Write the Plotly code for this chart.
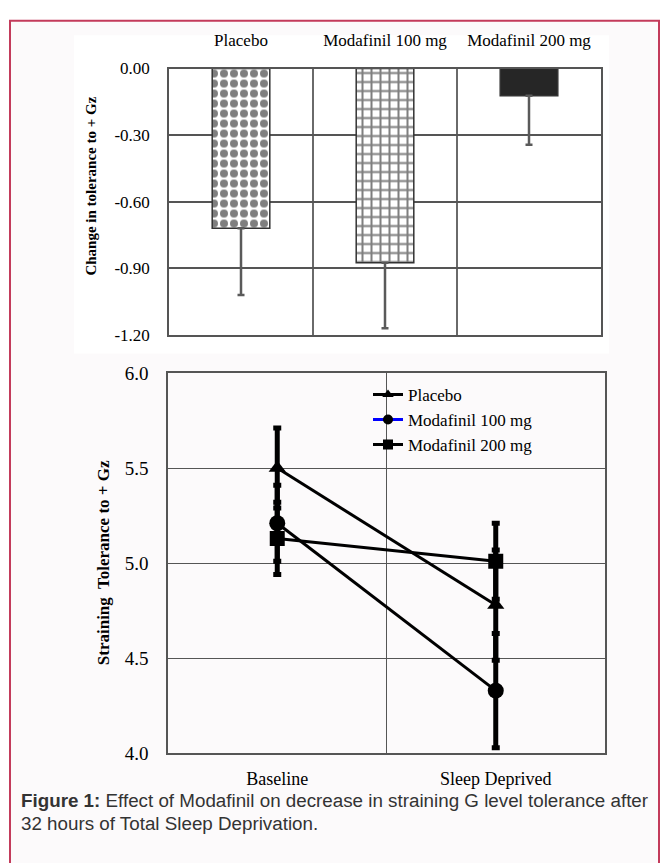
import plotly.graph_objects as go

# ---- data ----
bar_groups = ["Placebo", "Modafinil 100 mg", "Modafinil 200 mg"]
bar_change = [-0.72, -0.875, -0.123]
bar_sd = [0.30, 0.295, 0.22]
bar_ticks = [0.0, -0.3, -0.6, -0.9, -1.2]
bar_ticktext = ["0.00", "-0.30", "-0.60", "-0.90", "-1.20"]

conditions = ["Baseline", "Sleep Deprived"]
placebo = [5.50, 4.78]
placebo_sd = [0.21, 0.29]
moda100 = [5.21, 4.33]
moda100_sd = [0.20, 0.30]
moda200 = [5.13, 5.01]
moda200_sd = [0.19, 0.20]
line_ticks = [4.0, 4.5, 5.0, 5.5, 6.0]
line_ticktext = ["4.0", "4.5", "5.0", "5.5", "6.0"]

W, H = 665, 863
def px(x):
    return x / W
def py(y):
    return 1 - y / H

SERIF = "Liberation Serif"

fig = go.Figure()

# ---- top bar chart ----
patterns = [
    dict(shape=".", fgcolor="black", bgcolor="white", size=10, solidity=0.5),
    dict(shape="+", fgcolor="black", bgcolor="white", size=9, solidity=0.4),
    dict(shape="", fgcolor="#262626", bgcolor="#262626"),
]
colors = ["white", "white", "#262626"]
for i, g in enumerate(bar_groups):
    fig.add_trace(go.Bar(
        x=[g], y=[bar_change[i]], xaxis="x", yaxis="y", width=0.4,
        marker=dict(color=colors[i], pattern=patterns[i],
                    line=dict(color="#333333", width=1.5)),
        error_y=dict(type="data", symmetric=False, array=[0], arrayminus=[bar_sd[i]],
                     color="#5a5a5a", thickness=2.5, width=3.5),
        showlegend=False,
    ))

# ---- bottom line chart ----
series = [
    ("Placebo", placebo, placebo_sd, "triangle-up", 15, "black"),
    ("Modafinil 100 mg", moda100, moda100_sd, "circle", 16, "blue"),
    ("Modafinil 200 mg", moda200, moda200_sd, "square", 15, "black"),
]
for name, vals, sd, sym, size, legcol in series:
    fig.add_trace(go.Scatter(
        x=conditions, y=vals, xaxis="x2", yaxis="y2", mode="lines+markers",
        line=dict(color="black", width=3),
        marker=dict(symbol=sym, size=size, color="black"),
        error_y=dict(type="data", array=sd, color="black", thickness=5, width=4),
        showlegend=False, name=name,
    ))
for name, vals, sd, sym, size, legcol in series:
    fig.add_trace(go.Scatter(
        x=[None], y=[None], xaxis="x2", yaxis="y2", mode="lines+markers",
        line=dict(color=legcol, width=3),
        marker=dict(symbol=sym, size=10, color="black"),
        name=name, showlegend=True,
    ))

axis_common = dict(showline=True, mirror=True, ticks="", zeroline=False)

fig.update_layout(
    width=W, height=H,
    margin=dict(l=0, r=0, t=0, b=0),
    paper_bgcolor="white",
    plot_bgcolor="rgba(0,0,0,0)",
    font=dict(family=SERIF, color="black"),
    barmode="overlay",
    xaxis=dict(
        domain=[px(169), px(601)], anchor="y", side="top", type="category",
        categoryorder="array", categoryarray=bar_groups, range=[-0.5, 2.5],
        tickson="boundaries", showgrid=True, gridcolor="#6a6a6a", gridwidth=1.5,
        linecolor="#555555", linewidth=1.5, tickfont=dict(size=17),
        ticklabelstandoff=14, **axis_common,
    ),
    yaxis=dict(
        domain=[py(333), py(60)], anchor="x", range=[-1.2, 0],
        tickvals=bar_ticks, ticktext=bar_ticktext,
        showgrid=True, gridcolor="#555555", gridwidth=1.5,
        linecolor="#555555", linewidth=1.5, tickfont=dict(size=17),
        ticklabelstandoff=14, **axis_common,
    ),
    xaxis2=dict(
        domain=[px(168), px(605)], anchor="y2", type="category",
        categoryorder="array", categoryarray=conditions, range=[-0.5, 1.5],
        tickson="boundaries", showgrid=True, gridcolor="#555555", gridwidth=1,
        linecolor="#555555", linewidth=1.5, tickfont=dict(size=18),
        ticklabelstandoff=8, **axis_common,
    ),
    yaxis2=dict(
        domain=[py(762), py(372)], anchor="x2", range=[4.0, 6.0],
        tickvals=line_ticks, ticktext=line_ticktext,
        showgrid=True, gridcolor="#555555", gridwidth=1,
        linecolor="#555555", linewidth=1.5, tickfont=dict(size=19),
        ticklabelstandoff=14, **axis_common,
    ),
    legend=dict(
        x=px(368), y=py(376), xanchor="left", yanchor="top",
        bgcolor="rgba(0,0,0,0)", borderwidth=0,
        font=dict(family=SERIF, size=17, color="black"),
        tracegroupgap=0, itemwidth=30,
    ),
    shapes=[
        dict(type="rect", xref="paper", yref="paper",
             x0=px(10), x1=px(659), y0=-0.02, y1=py(11),
             line=dict(color="#c33b5b", width=2), fillcolor="#fcfafb", layer="below"),
        dict(type="rect", xref="paper", yref="paper",
             x0=px(74), x1=px(609), y0=py(352), y1=py(26),
             line=dict(width=0), fillcolor="white", layer="below"),
    ],
    annotations=[
        dict(text="<b>Change in tolerance to + Gz</b>", textangle=-90,
             x=px(91), y=py(181), xref="paper", yref="paper", showarrow=False,
             xanchor="center", yanchor="middle",
             font=dict(family=SERIF, size=15, color="black")),
        dict(text="<b>Straining  Tolerance to + Gz</b>", textangle=-90,
             x=px(103), y=py(567), xref="paper", yref="paper", showarrow=False,
             xanchor="center", yanchor="middle",
             font=dict(family=SERIF, size=17, color="black")),
        dict(text="<b>Figure 1:</b> Effect of Modafinil on decrease in straining G level tolerance after",
             x=px(19), y=py(810), xref="paper", yref="paper", xanchor="left", yanchor="middle",
             showarrow=False, font=dict(family="Liberation Sans", size=18.8, color="#333333")),
        dict(text="32 hours of Total Sleep Deprivation.",
             x=px(19), y=py(834), xref="paper", yref="paper", xanchor="left", yanchor="middle",
             showarrow=False, font=dict(family="Liberation Sans", size=18.8, color="#333333")),
    ],
)

fig.write_html("out.html", config={"displayModeBar": False},
               post_script="document.body.style.margin='0';")
